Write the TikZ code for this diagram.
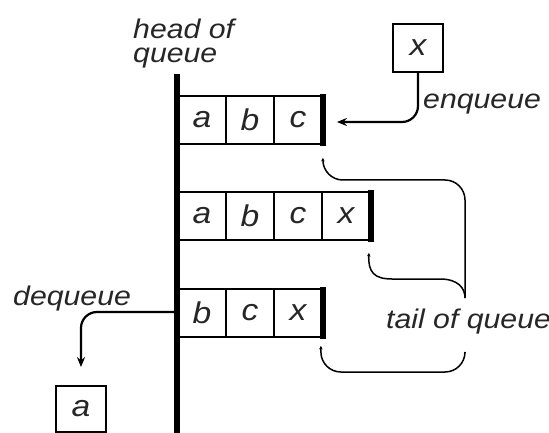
\documentclass[tikz,border=0pt]{standalone}
\usepackage{fontspec}
\setmainfont{Liberation Sans}[FakeStretch=1.12]
\usetikzlibrary{arrows.meta}
\tikzset{
  lbl/.style={font=\fontsize{27}{24}\selectfont\itshape, text=black!85, inner sep=0pt},
  cell/.style={draw, line width=1.8pt, minimum width=48pt, minimum height=48pt, inner sep=0pt,
               font=\fontsize{30}{30}\selectfont\itshape, text=black!85},
  endbar/.style={line width=6pt},
  conn/.style={line width=2.2pt},
  tailc/.style={line width=1.5pt, rounded corners=20pt},
  bigtip/.tip={Stealth[length=10pt,width=8pt]},
  smalltip/.tip={Stealth[length=3.5pt,width=3.5pt]},
}
\begin{document}
\begin{tikzpicture}[x=1pt,y=-1pt]
\useasboundingbox (0,0) rectangle (549,433);
% head bar
\coordinate (bartop) at (177,74);
\coordinate (barbot) at (177,433);
\draw[line width=6pt] (bartop) -- (barbot);
\node[lbl, anchor=base west, align=left] (head) at (133,63) {head of\\queue};
% row 1
\node[cell] (r1a) at (202,120) {a};
\node[cell] (r1b) at (250,120) {b};
\node[cell] (r1c) at (298,120) {c};
\draw[endbar] ([yshift=1]r1c.north east) -- ([yshift=-1]r1c.south east);
% row 2
\node[cell] (r2a) at (202,216) {a};
\node[cell] (r2b) at (250,216) {b};
\node[cell] (r2c) at (298,216) {c};
\node[cell] (r2x) at (346,216) {x};
\draw[endbar] ([yshift=1]r2x.north east) -- ([yshift=-1]r2x.south east);
% row 3
\node[cell] (r3b) at (202,313) {b};
\node[cell] (r3c) at (250,313) {c};
\node[cell] (r3x) at (298,313) {x};
\draw[endbar] ([yshift=1]r3x.north east) -- ([yshift=-1]r3x.south east);
% enqueue
\node[cell, minimum width=50pt, minimum height=48pt] (xbox) at (418,48) {x};
\node[lbl, anchor=base west] (enq) at (423,109) {enqueue};
\draw[conn, rounded corners=16pt, -bigtip] (xbox.south) |- ([xshift=14,yshift=-2]r1c.east);
% dequeue
\node[cell, minimum width=50pt, minimum height=46pt] (abox) at (81,409) {a};
\node[lbl, anchor=base west] (deq) at (13,305) {dequeue};
\coordinate (deqstart) at (175,312);
\draw[conn, rounded corners=16pt, -bigtip] (deqstart) -| ([yshift=18]abox.north);
% tail of queue
\node[lbl, anchor=base west] (tail) at (386,328) {tail of queue};
\coordinate (tailtop) at (465,298);
\coordinate (tailbot) at (465,353);
\draw[tailc, smalltip-] ([yshift=-13]r1c.south east) |- (465,180) -- (tailtop);
\draw[line width=1.5pt, smalltip-] ([xshift=-2,yshift=-12]r2x.south east) .. controls (368,272) and (374,279) .. (392,279) -- (440,279) .. controls (458,279) and (465,288) .. (tailtop);
\draw[tailc, smalltip-] ([xshift=-2,yshift=-8]r3x.south east) |- (465,372) -- (tailbot);
\end{tikzpicture}
\end{document}
